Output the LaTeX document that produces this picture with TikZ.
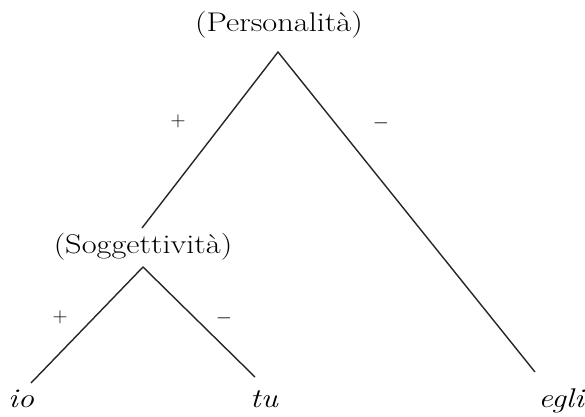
\documentclass[tikz,border=0pt]{standalone}
\usepackage{fontspec}
\newfontfamily\treefont[FakeStretch=1.2]{Latin Modern Roman}
\usetikzlibrary{positioning}
\tikzset{
  label/.style={font=\treefont\fontsize{27}{31}\selectfont,inner sep=0pt},
  leaf/.style={font=\treefont\fontsize{27}{31}\selectfont\itshape,inner sep=0pt,anchor=base},
  sign/.style={font=\fontsize{20}{24}\selectfont,inner sep=0pt},
  branch/.style={line width=1.4pt,black!85}
}
\begin{document}
\begin{tikzpicture}[x=1pt,y=-1pt]
  \useasboundingbox (0,0) rectangle (585,416);
  % top feature
  \node[label] (pers) at (279,25) {(Personalità)};
  \coordinate (apex) at (278,52);
  % lower feature
  \node[label] (sogg) at (143,247) {(Soggettività)};
  \coordinate (subapex) at (143,267);
  \coordinate (soggtop) at (142,228);
  % leaves
  \node[leaf] (io) at (21,407) {io};
  \node[leaf] (tu) at (264,407) {tu};
  \node[leaf] (egli) at (561,407) {egli};
  \coordinate (ioend) at (31,383);
  \coordinate (tuend) at (255,377);
  \coordinate (egliend) at (535,372);
  % branches
  \draw[branch] (soggtop) -- (apex) -- (egliend);
  \draw[branch] (ioend) -- (subapex) -- (tuend);
  % signs
  \node[sign] (plusA) at (178,121) {$+$};
  \node[sign] (minusA) at (381,123) {$-$};
  \node[sign] (plusB) at (60,317) {$+$};
  \node[sign] (minusB) at (224,318) {$-$};
\end{tikzpicture}
\end{document}
